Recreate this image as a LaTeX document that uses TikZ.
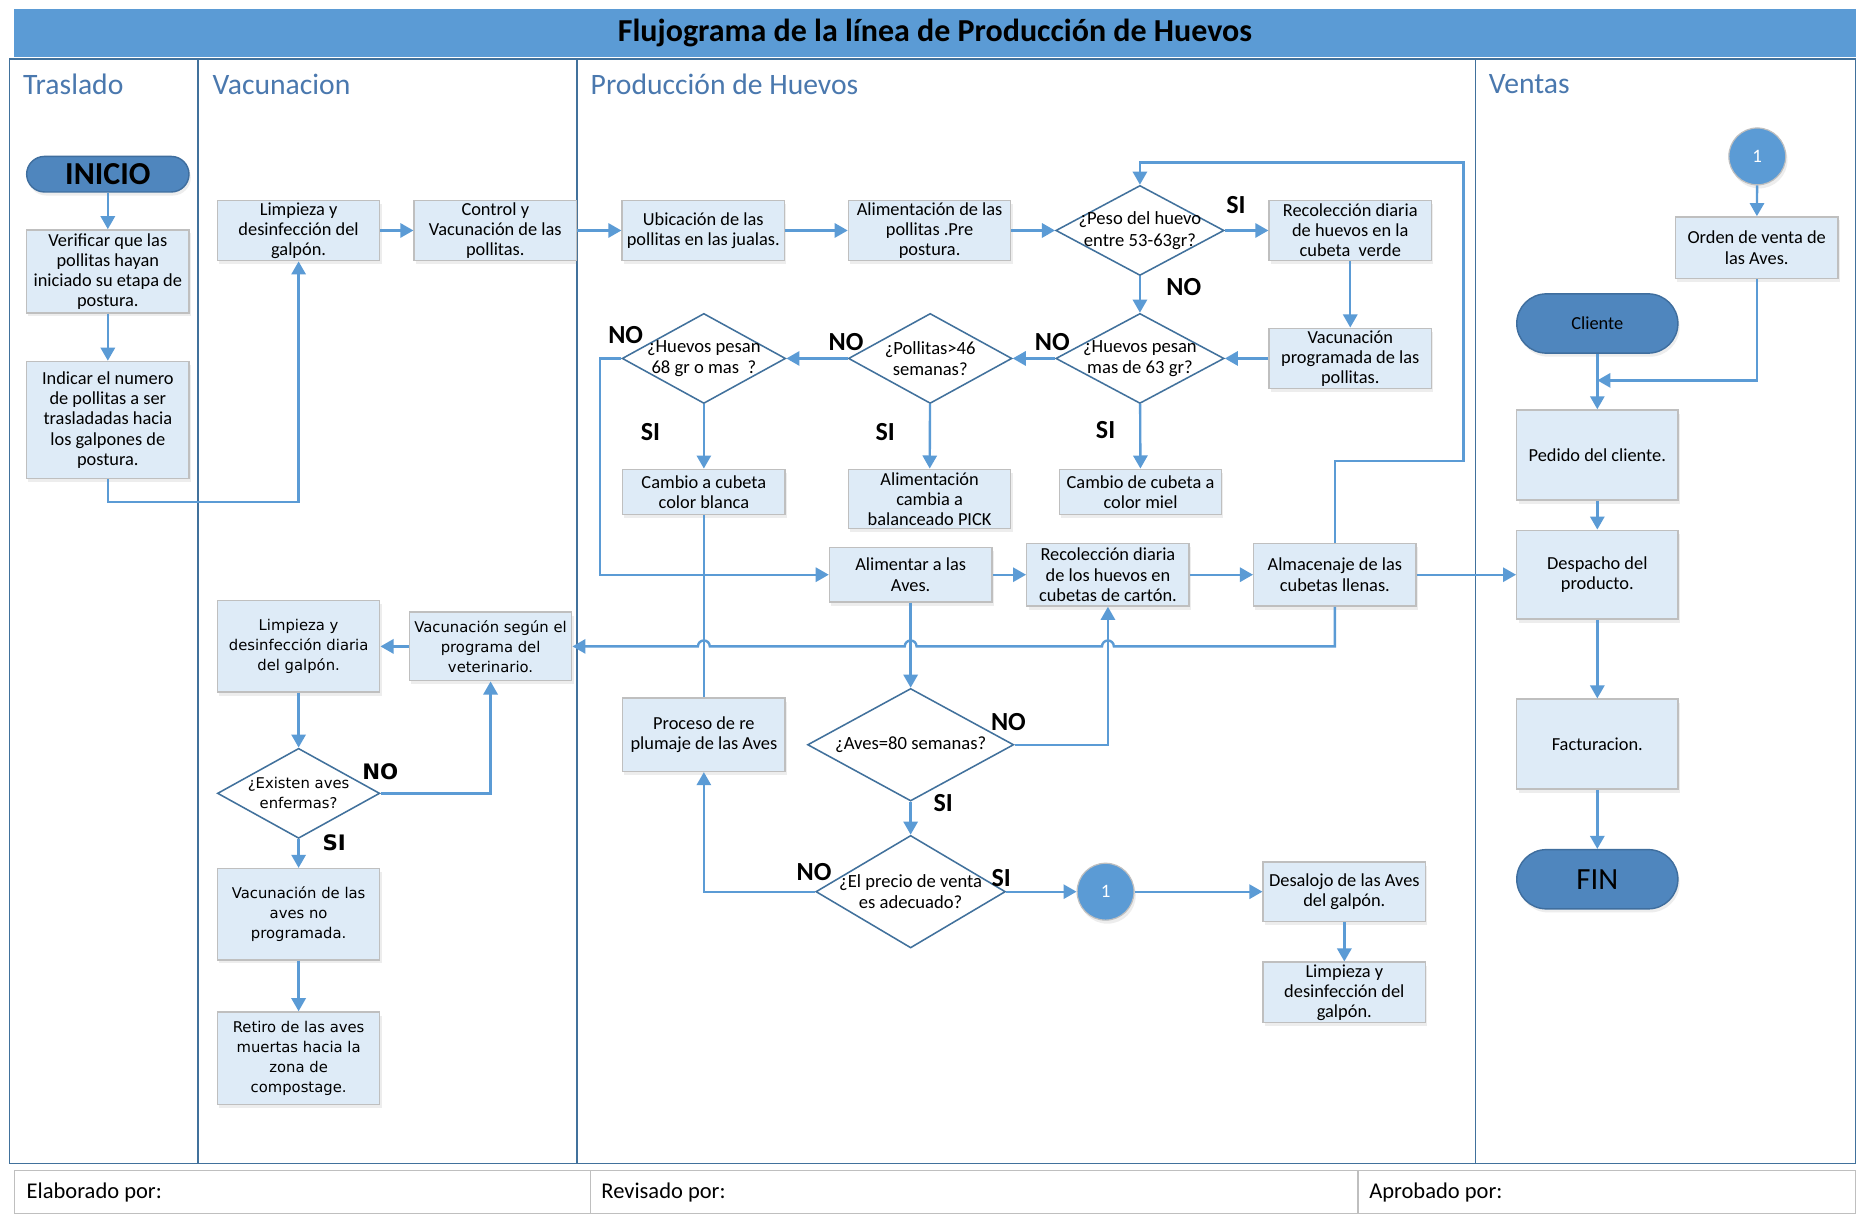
\documentclass[tikz,border=0pt]{standalone}
\usepackage{fontspec}
\setmainfont{Carlito}
\newfontfamily\dejavu{DejaVu Sans}
\usetikzlibrary{arrows.meta,shapes.geometric,shadows}
\definecolor{arrowblue}{HTML}{5B9BD5}
\definecolor{laneblue}{HTML}{41719C}
\definecolor{boxfill}{HTML}{DEEBF7}
\definecolor{boxedge}{HTML}{BFBFBF}
\definecolor{pillfill}{HTML}{4F86BE}
\definecolor{pilledge}{HTML}{3F6E9E}
\definecolor{labelblue}{HTML}{4A78AE}
\tikzset{
  sz/.style 2 args={minimum width=#1pt, minimum height=#2pt},
  box/.style={rectangle, draw=boxedge, line width=1.2pt, fill=boxfill, align=center,
    inner sep=1pt, font=\fontsize{15.5}{17}\selectfont,
    drop shadow={opacity=0.14, shadow xshift=1.5pt, shadow yshift=-3pt}},
  vbox/.style={box, font=\dejavu\fontsize{12.5}{17}\selectfont},
  dia/.style={diamond, draw=laneblue, line width=1.3pt, fill=white, inner sep=0pt},
  dtext/.style={align=center, font=\fontsize{15.7}{18}\selectfont},
  vdtext/.style={align=center, font=\dejavu\fontsize{12.5}{17}\selectfont},
  pill/.style={rectangle, draw=pilledge, fill=pillfill, line width=1.2pt,
    drop shadow={opacity=0.14, shadow xshift=1.5pt, shadow yshift=-3pt}},
  conn/.style={circle, fill=arrowblue, draw=boxedge, line width=1pt, minimum size=48pt,
    inner sep=0pt, text=white, font=\fontsize{16}{18}\selectfont,
    drop shadow={opacity=0.14, shadow xshift=1.5pt, shadow yshift=-3pt}},
  arr/.style={draw=arrowblue, line width=2pt, -{Triangle[length=11pt,width=12pt]}},
  ln/.style={draw=arrowblue, line width=2pt},
  lane/.style={draw=laneblue, line width=1.3pt},
  lanelabel/.style={anchor=west, text=labelblue, font=\fontsize{25}{27}\selectfont},
  yn/.style={font=\bfseries\fontsize{22}{24}\selectfont},
  vyn/.style={font=\dejavu\bfseries\fontsize{18}{20}\selectfont},
  foot/.style={anchor=west, font=\fontsize{19}{21}\selectfont},
}
\begin{document}
\begin{tikzpicture}[x=1pt, y=-1pt]
\useasboundingbox (0,0) rectangle (1568,1026);
\fill[white] (0,0) rectangle (1568,1026);

% title bar
\node[fill=arrowblue, sz={1554}{40}, inner sep=0pt, font=\bfseries\fontsize{27}{29}\selectfont] (title) at (789,28) {Flujograma de la línea de Producción de Huevos};

% lanes
\draw[lane] (8,50) rectangle (1566,982);
\draw[lane] (167,50) -- (167,982);
\draw[lane] (487,50) -- (487,982);
\draw[lane] (1245,50) -- (1245,982);
\node[lanelabel] (lt) at (16,71) {Traslado};
\node[lanelabel] (lv) at (176,71) {Vacunacion};
\node[lanelabel] (lp) at (495,71) {Producción de Huevos};
\node[lanelabel] (lvv) at (1253,71) {Ventas};

% footer
\draw[draw=boxedge, line width=1pt] (12,988) rectangle (1566,1024);
\draw[draw=boxedge, line width=1pt] (498,988) -- (498,1024);
\draw[draw=boxedge, line width=1pt] (1146,988) -- (1146,1024);
\node[foot] (f1) at (19,1006) {Elaborado por:};
\node[foot] (f2) at (504,1006) {Revisado por:};
\node[foot] (f3) at (1152,1006) {Aprobado por:};

% Traslado
\node[pill, rounded corners=15pt, sz={137}{30}, font=\bfseries\fontsize{27}{29}\selectfont] (inicio) at (91,147) {INICIO};
\node[box, sz={137}{70}] (verif) at (91,229) {Verificar que las\\pollitas hayan\\iniciado su etapa de\\postura.};
\node[box, sz={137}{99}] (indicar) at (91,354.5) {Indicar el numero\\de pollitas a ser\\trasladadas hacia\\los galpones de\\postura.};

% Vacunacion
\node[box, sz={137}{51}] (limp1) at (252,194.5) {Limpieza y\\desinfección del\\galpón.};
\node[box, sz={137}{51}] (control) at (418,194.5) {Control y\\Vacunación de las\\pollitas.};
\node[vbox, sz={137}{77}] (limpd) at (252,545.5) {Limpieza y\\desinfección diaria\\del galpón.};
\node[vbox, sz={137}{58}] (vsegun) at (414,545.5) {Vacunación según el\\programa del\\veterinario.};
\node[dia, sz={137}{76}, label={[vdtext]center:{¿Existen aves\\enfermas?}}] (exist) at (252,669.5) {};
\node[vbox, sz={137}{77}] (vacno) at (252,771.5) {Vacunación de las\\aves no\\programada.};
\node[vbox, sz={137}{78}] (retiro) at (252,893) {Retiro de las aves\\muertas hacia la\\zona de\\compostage.};

% Produccion
\node[box, sz={137}{51}] (ubic) at (593.5,194.5) {Ubicación de las\\pollitas en las jualas.};
\node[box, sz={137}{51}] (alimpre) at (784.5,194.5) {Alimentación de las\\pollitas .Pre\\postura.};
\node[dia, sz={142}{76}, label={[dtext]center:{¿Peso del huevo\\entre 53-63gr?}}] (peso) at (962,194.5) {};
\node[box, sz={137}{51}] (recverde) at (1139.5,194.5) {Recolección diaria\\de huevos en la\\cubeta\ \ verde};
\node[box, sz={137}{51}] (vacprog) at (1139.5,302.5) {Vacunación\\programada de las\\pollitas.};
\node[dia, sz={142}{76}, label={[dtext]center:{¿Huevos pesan\\mas de 63 gr?}}] (h63) at (962,302.5) {};
\node[dia, sz={138}{76}, label={[dtext]center:{¿Pollitas>46\\semanas?}}] (pol46) at (785,302.5) {};
\node[dia, sz={138}{76}, label={[dtext]center:{¿Huevos pesan\\68 gr o mas\ \ ?}}] (h68) at (594,302.5) {};
\node[box, sz={137}{38}] (miel) at (962.5,415) {Cambio de cubeta a\\color miel};
\node[box, sz={137}{50}] (pick) at (784.5,421) {Alimentación\\cambia a\\balanceado PICK};
\node[box, sz={137}{38}] (blanca) at (594,415) {Cambio a cubeta\\color blanca};
\node[box, sz={137}{46}] (alimentar) at (768.5,485) {Alimentar a las\\Aves.};
\node[box, sz={137}{53}] (reccart) at (935,485) {Recolección diaria\\de los huevos en\\cubetas de cartón.};
\node[box, sz={137}{53}] (almac) at (1126.5,485) {Almacenaje de las\\cubetas llenas.};
\node[box, sz={137}{62}] (proceso) at (594,620) {Proceso de re\\plumaje de las Aves};
\node[dia, sz={174}{95}, label={[dtext]center:{¿Aves=80 semanas?}}] (aves80) at (768.5,628.5) {};
\node[dia, sz={160}{95}, label={[dtext]center:{¿El precio de venta\\es adecuado?}}] (precio) at (768.5,752.5) {};
\node[conn] (c1) at (933,752.5) {1};
\node[box, sz={137}{50}] (desalojo) at (1134.5,752.5) {Desalojo de las Aves\\del galpón.};
\node[box, sz={137}{51}] (limp3) at (1134.5,837.5) {Limpieza y\\desinfección del\\galpón.};

% Ventas
\node[conn] (c2) at (1483,132) {1};
\node[box, sz={137}{52}] (orden) at (1482.5,209) {Orden de venta de\\las Aves.};
\node[pill, rounded corners=25pt, sz={136}{50}, font=\fontsize{15.5}{17}\selectfont] (cliente) at (1348,273) {Cliente};
\node[box, sz={136}{76}] (pedido) at (1348,384) {Pedido del cliente.};
\node[box, sz={136}{75}] (despacho) at (1348,485) {Despacho del\\producto.};
\node[box, sz={136}{76}] (fact) at (1348,628) {Facturacion.};
\node[pill, rounded corners=25pt, sz={136}{50}, font=\fontsize{26}{28}\selectfont] (fin) at (1348,742) {FIN};
\coordinate (join) at (1348,321);

% connectors - Traslado/Vacunacion
\draw[arr] (inicio) -- (verif);
\draw[arr] (verif) -- (indicar);
\draw[arr] (indicar.south) -- ++(0,19) -| (limp1.south);
\draw[arr] (limp1) -- (control);
\draw[arr] (control) -- (ubic);
\draw[arr] (vsegun) -- (limpd);
\draw[arr] (limpd) -- (exist);
\draw[arr] (exist) -- (vacno);
\draw[arr] (vacno) -- (retiro);
\draw[arr] (exist.east) -| (vsegun.south);

% Produccion
\draw[arr] (ubic) -- (alimpre);
\draw[arr] (alimpre) -- (peso);
\draw[arr] (peso) -- (recverde);
\draw[arr] (peso) -- (h63);
\draw[arr] (recverde) -- (vacprog);
\draw[arr] (vacprog) -- (h63);
\draw[arr] (h63) -- (pol46);
\draw[arr] (pol46) -- (h68);
\draw[arr] (h63) -- (miel);
\draw[arr] (pol46) -- (pick);
\draw[arr] (h68) -- (blanca);
\draw[arr] (h68.west) -- ++(-18,0) |- (alimentar.west);
\draw[ln] (blanca) -- (proceso);
\draw[arr] (alimentar) -- (reccart);
\draw[arr] (reccart) -- (almac);
\draw[arr] (almac) -- (despacho);
\draw[arr] (almac.north) -- (almac.north |- 0,389) -- (1235,389) -- (1235,137) -| (peso.north);
\draw[arr] (almac.south) -- (almac.south |- 0,545.5) -- (940,545.5)
  arc[start angle=0, end angle=180, radius=5pt] -- (773.5,545.5)
  arc[start angle=0, end angle=180, radius=5pt] -- (599,545.5)
  arc[start angle=0, end angle=180, radius=5pt] -- (vsegun.east);
\draw[arr] (alimentar) -- (aves80);
\draw[arr] (aves80.east) -| (reccart.south);
\draw[arr] (aves80) -- (precio);
\draw[arr] (precio.west) -| (proceso.south);
\draw[arr] (precio) -- (c1);
\draw[arr] (c1) -- (desalojo);
\draw[arr] (desalojo) -- (limp3);

% Ventas
\draw[arr] (c2) -- (orden);
\draw[arr] (orden.south) |- (join);
\draw[arr] (cliente) -- (pedido);
\draw[arr] (pedido) -- (despacho);
\draw[arr] (despacho) -- (fact);
\draw[arr] (fact) -- (fin);

% decision labels
\node[vyn] (l1) at (321,651) {NO};
\node[vyn] (l2) at (282,711) {SI};
\node[yn] (l3) at (1043,173) {SI};
\node[yn] (l4) at (999,242) {NO};
\node[yn] (l5) at (888,289) {NO};
\node[yn] (l6) at (933,363) {SI};
\node[yn] (l7) at (714,289) {NO};
\node[yn] (l8) at (747,365) {SI};
\node[yn] (l9) at (528,283) {NO};
\node[yn] (l10) at (549,365) {SI};
\node[yn] (l11) at (851,609) {NO};
\node[yn] (l12) at (796,678) {SI};
\node[yn] (l13) at (687,736) {NO};
\node[yn] (l14) at (845,741) {SI};
\end{tikzpicture}
\end{document}
